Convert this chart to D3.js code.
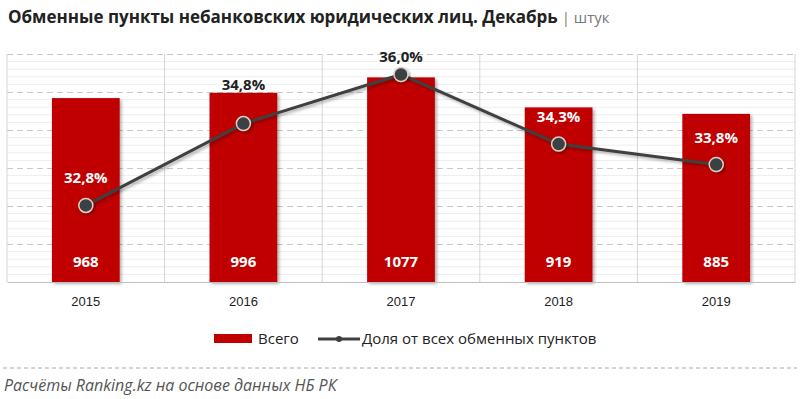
<!DOCTYPE html>
<html>
<head>
<meta charset="utf-8">
<script src="https://cdn.jsdelivr.net/npm/d3@7"></script>
<style>
  body { margin: 0; background: #fff; }
  svg { font-family: "Open Sans", "Noto Sans", sans-serif; }
</style>
</head>
<body>
<div id="chart"></div>
<script>
// data
const years = ['2015', '2016', '2017', '2018', '2019'];
const totals = [968, 996, 1077, 919, 885];
const shares = [32.8, 34.8, 36.0, 34.3, 33.8];
const shareLabels = ['32,8%', '34,8%', '36,0%', '34,3%', '33,8%'];

const W = 800, H = 399;
const plot = { left: 7, right: 795, top: 54, bottom: 282 };

const svg = d3.select('#chart').append('svg')
  .attr('width', W)
  .attr('height', H);

// shadow
const defs = svg.append('defs');
const sh = defs.append('filter').attr('id', 'shadow')
  .attr('x', '-20%').attr('y', '-20%').attr('width', '140%').attr('height', '140%');
sh.append('feDropShadow')
  .attr('dx', 2).attr('dy', 2).attr('stdDeviation', 1.5)
  .attr('flood-color', '#000').attr('flood-opacity', 0.3);

// scales
const x = d3.scaleBand()
  .domain(years)
  .range([plot.left, plot.right])
  .paddingInner(0.57)
  .paddingOuter(0.285);

const y = d3.scaleLinear()
  .domain([0, 1200])
  .range([plot.bottom, plot.top]);

const y2 = d3.scaleLinear()
  .domain([30.93, 36.5])
  .range([plot.bottom, plot.top]);

const step = x.step();

// minor gridlines
svg.append('g')
  .selectAll('line')
  .data(d3.range(0, 1201, 40).filter(v => v % 200 !== 0))
  .enter().append('line')
  .attr('x1', plot.left).attr('x2', plot.right)
  .attr('y1', d => y(d)).attr('y2', d => y(d))
  .attr('stroke', '#eeeeee')
  .attr('stroke-width', 1);

// major gridlines (dashed)
svg.append('g')
  .attr('transform', `translate(${plot.left},0)`)
  .call(d3.axisLeft(y).tickValues(d3.range(200, 1201, 200)).tickSize(-(plot.right - plot.left)).tickFormat(''))
  .call(g => g.select('.domain').remove())
  .call(g => g.selectAll('.tick line')
    .attr('stroke', '#c8c8c8')
    .attr('stroke-dasharray', '6,4'));

// vertical separators
svg.append('g')
  .selectAll('line')
  .data(d3.range(years.length + 1))
  .enter().append('line')
  .attr('x1', i => plot.left + i * step).attr('x2', i => plot.left + i * step)
  .attr('y1', plot.top).attr('y2', plot.bottom)
  .attr('stroke', '#d6d6d6');

// bars
svg.append('g')
  .selectAll('rect')
  .data(totals)
  .enter().append('rect')
  .attr('x', (d, i) => x(years[i]))
  .attr('width', x.bandwidth())
  .attr('y', d => y(d))
  .attr('height', d => plot.bottom - y(d))
  .attr('fill', '#c00000')
  .attr('filter', 'url(#shadow)');

// x axis
const xAxis = svg.append('g')
  .attr('transform', `translate(0,${plot.bottom})`)
  .call(d3.axisBottom(x).tickSize(0).tickPadding(15));
xAxis.select('.domain').attr('stroke', '#bfbfbf');
xAxis.selectAll('text')
  .attr('font-size', 13)
  .attr('fill', '#222');

// bar value labels
svg.append('g')
  .selectAll('text')
  .data(totals)
  .enter().append('text')
  .attr('x', (d, i) => x(years[i]) + x.bandwidth() / 2)
  .attr('y', y(0) - 15)
  .attr('text-anchor', 'middle')
  .attr('font-size', 15)
  .attr('font-weight', 'bold')
  .attr('fill', '#fff')
  .text(d => d);

// line
const cx = (d, i) => x(years[i]) + x.bandwidth() / 2;
const line = d3.line()
  .x(cx)
  .y(d => y2(d));

svg.append('path')
  .datum(shares)
  .attr('d', line)
  .attr('fill', 'none')
  .attr('stroke', '#404040')
  .attr('stroke-width', 3)
  .attr('filter', 'url(#shadow)');

svg.append('g')
  .selectAll('circle')
  .data(shares)
  .enter().append('circle')
  .attr('cx', cx)
  .attr('cy', d => y2(d))
  .attr('r', 7)
  .attr('fill', '#3b3f45')
  .attr('stroke', '#d9d0c4')
  .attr('stroke-width', 1.5)
  .attr('filter', 'url(#shadow)');

// share labels: inside the bar when there is room, otherwise above its top
const labelPos = (d, i) => {
  const py = y2(d), top = y(totals[i]);
  const inside = py - 27;
  if (inside - 7 > top) return { cy: inside, white: true };
  return { cy: Math.min(py - 17, top - 8), white: false };
};

svg.append('g')
  .selectAll('text')
  .data(shares)
  .enter().append('text')
  .attr('x', cx)
  .attr('y', (d, i) => labelPos(d, i).cy + 5)
  .attr('text-anchor', 'middle')
  .attr('font-size', 15)
  .attr('font-weight', 'bold')
  .attr('fill', (d, i) => (labelPos(d, i).white ? '#fff' : '#222'))
  .text((d, i) => shareLabels[i]);

// title
const title = svg.append('text')
  .attr('x', 8)
  .attr('y', 23);
title.append('tspan')
  .attr('font-size', 17)
  .attr('font-weight', 'bold')
  .attr('fill', '#222')
  .text('Обменные пункты  небанковских юридических лиц. Декабрь');
title.append('tspan')
  .attr('font-size', 15)
  .attr('fill', '#777')
  .text(' | штук');

// legend
const lg = svg.append('g');
lg.append('rect')
  .attr('x', 214).attr('y', 334)
  .attr('width', 38).attr('height', 9)
  .attr('fill', '#c00000');
lg.append('text')
  .attr('x', 258).attr('y', 344)
  .attr('font-size', 15)
  .attr('fill', '#222')
  .text('Всего');
lg.append('line')
  .attr('x1', 318).attr('x2', 360)
  .attr('y1', 339).attr('y2', 339)
  .attr('stroke', '#404040').attr('stroke-width', 3);
lg.append('circle')
  .attr('cx', 339).attr('cy', 339).attr('r', 3)
  .attr('fill', '#3b3f45');
lg.append('text')
  .attr('x', 362).attr('y', 344)
  .attr('font-size', 15)
  .attr('fill', '#222')
  .text('Доля от всех обменных пунктов');

// footer
svg.append('line')
  .attr('x1', 3).attr('x2', 797)
  .attr('y1', 368).attr('y2', 368)
  .attr('stroke', '#aaa')
  .attr('stroke-dasharray', '4,3');
svg.append('text')
  .attr('x', 4).attr('y', 391)
  .attr('font-size', 16)
  .attr('font-style', 'italic')
  .attr('fill', '#555')
  .text('Расчёты Ranking.kz на основе данных  НБ РК');
</script>
</body>
</html>
